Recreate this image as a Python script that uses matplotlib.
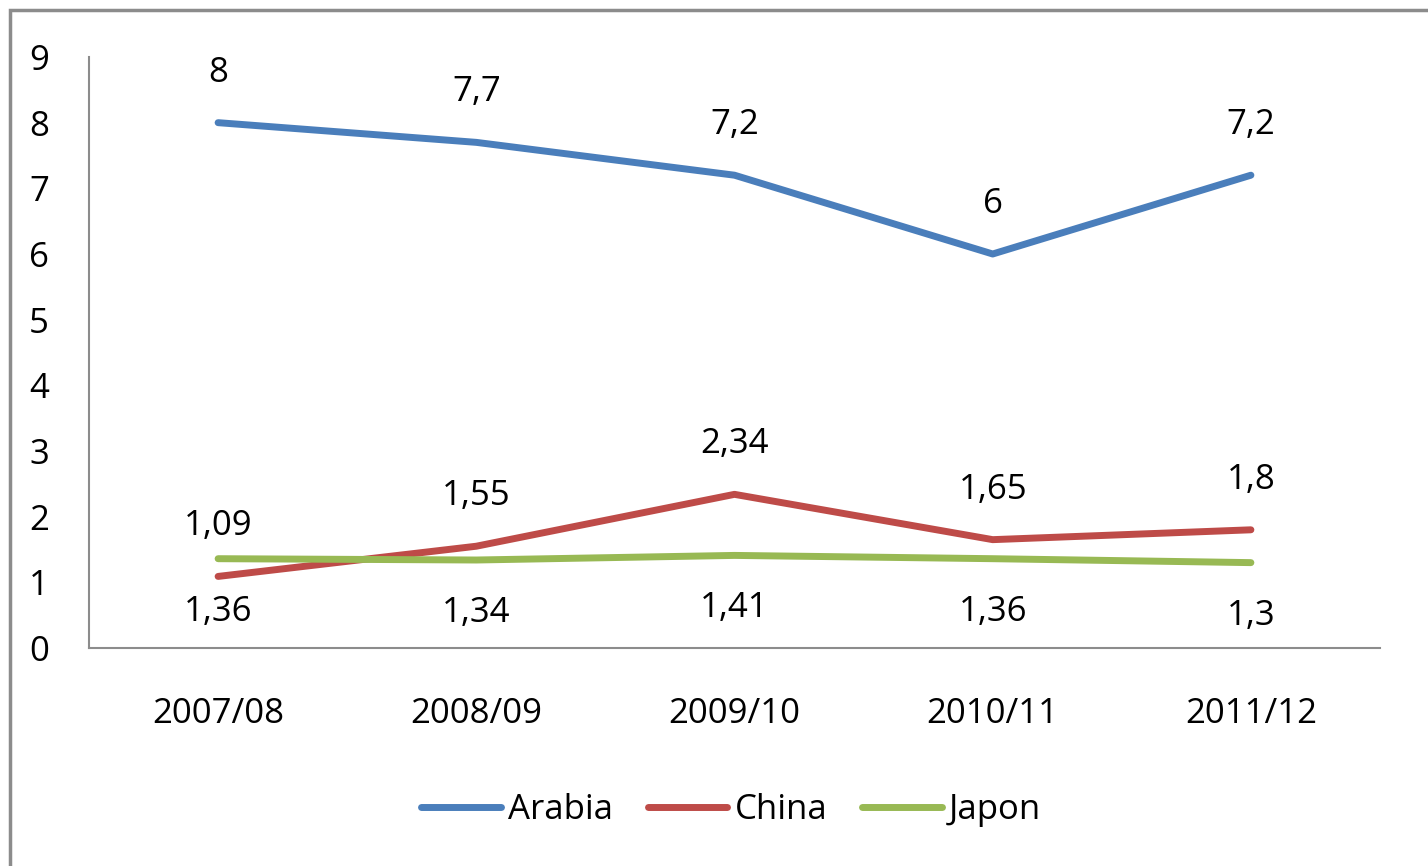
import matplotlib.pyplot as plt
from matplotlib.patches import Rectangle

W, H = 1428, 866

years = ["2007/08", "2008/09", "2009/10", "2010/11", "2011/12"]
arabia = [8, 7.7, 7.2, 6, 7.2]
china = [1.09, 1.55, 2.34, 1.65, 1.8]
japon = [1.36, 1.34, 1.41, 1.36, 1.3]

plt.rcParams['font.family'] = ['Open Sans', 'DejaVu Sans']
FS = 25

fig = plt.figure(figsize=(W / 100, H / 100), dpi=100)
# outer chart frame
fig.patches.append(Rectangle((10 / W, -0.05), 1.2, 1 - 10 / H + 0.05,
                             transform=fig.transFigure, fill=False,
                             edgecolor='#8c8c8c', lw=2.5))

ax = fig.add_axes([89 / W, (H - 648) / H, (1380 - 89) / W, (648 - 57) / H])
x = range(len(years))

series = [("Arabia", arabia, '#4A7EBB', 50),
          ("China", china, '#BE4B48', 50),
          ("Japon", japon, '#98B954', -53)]
for name, vals, col, off in series:
    ax.plot(x, vals, color=col, lw=5, solid_capstyle='round', label=name)
    for i, v in enumerate(vals):
        ax.annotate(f"{v:g}".replace('.', ','), (i, v), xytext=(0, off),
                    textcoords='offset pixels', ha='center', va='center',
                    fontsize=FS)

ax.set_xlim(-0.5, 4.5)
ax.set_ylim(0, 9)
ax.set_yticks(range(10))
ax.set_xticks(list(x))
ax.set_xticklabels(years)
ax.tick_params(length=0, labelsize=FS)
ax.tick_params(axis='x', pad=35)
ax.tick_params(axis='y', pad=36)
for lbl in ax.get_yticklabels():
    lbl.set_horizontalalignment('center')
for s in ['top', 'right']:
    ax.spines[s].set_visible(False)
for s in ['left', 'bottom']:
    ax.spines[s].set_color('#8c8c8c')
    ax.spines[s].set_linewidth(1.5)

ax.legend(loc='center', bbox_to_anchor=(731 / W, (H - 810) / H),
          bbox_transform=fig.transFigure, ncol=3, frameon=False,
          fontsize=FS, handlelength=2.3, handletextpad=0.2, columnspacing=1.0)

fig.savefig("out.png", dpi=100)
